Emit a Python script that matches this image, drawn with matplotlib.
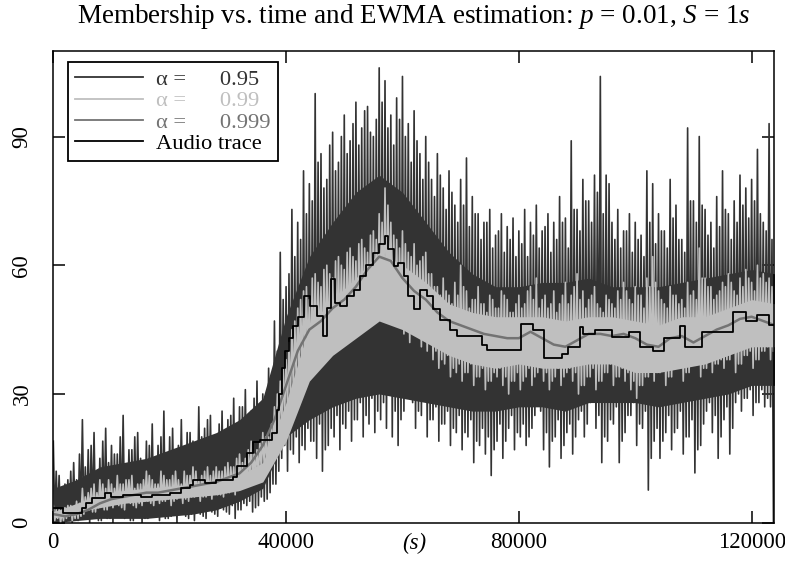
import numpy as np
import matplotlib
matplotlib.use("Agg")
import matplotlib.pyplot as plt
from matplotlib.lines import Line2D

plt.rcParams['font.family'] = ['Liberation Serif', 'DejaVu Serif']
plt.rcParams['mathtext.fontset'] = 'custom'
plt.rcParams['mathtext.rm'] = 'Liberation Serif'
plt.rcParams['mathtext.it'] = 'Liberation Serif:italic'

# spike samples every 1000 s: hi_a at t, lo_a at t+250, hi_b at t+500, lo_b at t+750
step_s = 1000

# alpha = 0.95 estimate, spike tops / bottoms
hi95 = [19, 11, 9, 12, 10, 24, 17, 21, 15, 22, 18, 16, 25, 17, 20, 15, 19, 23, 18, 26,
        20, 17, 24, 21, 19, 27, 22, 25, 20, 26, 24, 29, 27, 31, 26, 33, 30, 36, 47, 63,
        55, 73, 70, 82, 79, 100, 86, 80, 91, 84, 95, 89, 98, 92, 97, 90, 106, 103, 95, 99,
        104, 93, 96, 86, 90, 80, 86, 78, 82, 74, 80, 85, 76, 72, 70, 73, 67, 72, 69, 71,
        68, 73, 70, 74, 68, 72, 70, 76, 71, 89, 73, 80, 75, 81, 104, 81, 70, 73, 68, 72,
        70, 67, 82, 79, 72, 68, 80, 74, 66, 92, 75, 90, 73, 70, 76, 82, 72, 75, 81, 78,
        80, 87, 70, 93]
lo95 = [0.5, 0, 1, 0, 0.5, 1, 0, 1.5, 0.5, 1, 0, 2, 1, 0.5, 1.5, 0, 1, 2, 0.5, 1,
        1.5, 0, 2, 1, 0.5, 2, 1, 2.5, 1.5, 3, 2, 1, 3, 4, 2.5, 4, 5, 7, 9, 15,
        12, 16, 14, 17, 19, 15, 12, 18, 20, 17, 22, 19, 24, 20, 23, 21, 24, 22, 20, 18,
        26, 29, 22, 25, 20, 24, 19, 23, 18, 21, 17, 20, 14, 18, 16, 11, 19, 15, 22, 17,
        20, 18, 22, 31, 17, 13, 20, 15, 21, 16, 24, 20, 28, 22, 14, 19, 23, 14, 21, 25,
        18, 22, 7.6, 19, 15, 21, 17, 22, 16, 20, 11.6, 18, 26, 21, 15, 24, 16, 28, 26, 29,
        25, 28, 27, 27]
hi95b = [12, 8, 10, 14, 16, 13, 18, 12, 19, 14, 16, 20, 13, 17, 21, 14, 18, 15, 20, 16,
         22, 18, 15, 21, 17, 20, 24, 19, 23, 21, 25, 22, 27, 24, 29, 25, 28, 33, 40, 52,
         58, 62, 66, 72, 75, 84, 78, 88, 82, 90, 86, 93, 88, 96, 91, 94, 98, 92, 88, 94,
         90, 84, 89, 80, 84, 76, 81, 73, 77, 70, 74, 69, 72, 66, 70, 64, 68, 63, 66, 62,
         65, 62, 67, 64, 69, 63, 66, 70, 64, 73, 68, 75, 70, 77, 72, 79, 66, 64, 68, 63,
         66, 62, 70, 65, 68, 64, 71, 66, 63, 75, 70, 74, 67, 64, 69, 73, 66, 70, 74, 71,
         75, 72, 68, 66]
lo95b = [1, 2, 0.5, 1.5, 2, 1, 2.5, 0.5, 2, 1, 3, 1.5, 2, 0.5, 2.5, 1, 3, 1.5, 2, 1,
         2.5, 3, 1.5, 2, 3, 1.5, 3, 2, 3.5, 2.5, 4, 3, 4.5, 5, 3.5, 6, 5.5, 9, 12, 18,
         17, 20, 18, 22, 19, 23, 17, 22, 25, 23, 26, 24, 28, 25, 29, 26, 28, 30, 26, 24,
         31, 28, 26, 29, 24, 27, 23, 26, 22, 25, 21, 24, 19, 22, 20, 17, 23, 19, 25, 21,
         23, 20, 25, 26, 21, 19, 24, 18, 23, 20, 26, 23, 29, 25, 20, 24, 27, 19, 25, 28,
         23, 26, 15, 22, 19, 25, 21, 26, 20, 24, 17, 23, 28, 25, 20, 27, 22, 30, 29, 31,
         28, 31, 29, 0]

# alpha = 0.99 estimate, same sampling
hi99 = [4, 3, 3.5, 4, 5,
        8, 7, 9, 10, 8, 9, 11, 9, 10, 8, 9, 12, 10, 9, 11, 10, 12, 9, 11, 13, 10, 12, 11, 13, 12,
        14, 13, 16, 15, 19, 17, 21, 20,
        27, 33, 38, 45, 50, 54, 52,
        58, 55, 60, 57, 62, 59, 64, 61, 66, 63, 68,
        72, 78, 70,
        66, 68, 63, 65, 61, 63,
        58, 55, 57, 53, 56, 60, 54, 52, 55, 51, 53, 50, 54, 52, 49, 53, 51, 55, 57, 52,
        50, 54, 51, 56, 53, 58, 54, 52, 55, 50, 53, 51, 54, 56, 52, 55, 53, 57, 62, 54,
        51, 55, 53, 52, 56, 54, 64, 57, 55, 53, 56, 58, 54, 57, 59, 56, 60, 58, 57]
lo99 = [0.5, 0, 1, 0.5, 1,
        2, 3, 2.5, 4, 3, 3.5, 4, 3, 4.5, 3.5, 4, 5, 4, 4.5, 5, 4, 5.5, 4.5, 5, 6, 5, 6, 5.5, 6.5, 6,
        7, 6.5, 8, 8.5, 10, 11, 13, 15,
        18, 22, 27, 31, 34, 37, 36,
        39, 37, 41, 40, 43, 42, 45, 44, 47, 46, 49,
        50, 52, 48,
        46, 44, 42, 45, 41, 40,
        38, 36, 37, 34, 35, 33, 35, 32, 34, 31, 33, 34, 32, 30, 33, 31, 34, 32, 35, 33,
        31, 34, 32, 35, 33, 30, 32, 34, 31, 33, 35, 32, 34, 33, 31, 29, 32, 34, 33, 35,
        32, 34, 36, 33, 35, 37, 34, 36, 35, 37, 36, 38, 35, 37, 39, 36, 38, 40, 38]
hi99b = [3, 2.5, 4, 3, 4.5,
         6, 8, 7, 9, 10, 8, 9, 10, 11, 9, 10, 11, 9, 12, 10, 11, 10, 12, 11, 12, 11, 13, 12, 12, 13,
         13, 15, 14, 17, 16, 19, 20, 23,
         30, 36, 42, 47, 52, 55, 57,
         56, 59, 58, 61, 60, 63, 62, 65, 64, 67, 66,
         70, 74, 67,
         64, 65, 62, 60, 62, 58,
         55, 53, 54, 51, 53, 55, 50, 52, 51, 49, 52, 50, 53, 49, 51, 50, 54, 52, 50, 53,
         51, 49, 53, 51, 55, 52, 50, 53, 51, 49, 52, 50, 52, 54, 51, 53, 50, 55, 56, 52,
         50, 53, 51, 50, 53, 52, 57, 55, 52, 54, 55, 56, 53, 55, 57, 54, 57, 56, 55]
lo99b = [1, 0.5, 1.5, 1, 1.5,
         3, 2.5, 3.5, 3, 4, 4.5, 3.5, 5, 4, 4.5, 5, 4.5, 5.5, 5, 5.5, 5, 6, 5.5, 6, 6.5, 6, 6.5, 7, 6.5, 7,
         8, 7.5, 9, 9.5, 11, 12, 14, 16,
         20, 25, 29, 33, 36, 39, 38,
         41, 40, 43, 42, 45, 44, 47, 46, 49, 48, 51,
         52, 54, 50,
         48, 46, 44, 46, 43, 42,
         40, 38, 39, 36, 37, 35, 37, 34, 36, 33, 35, 36, 34, 33, 35, 33, 36, 34, 37, 35,
         33, 36, 34, 36, 35, 32, 34, 36, 33, 35, 37, 34, 36, 35, 33, 32, 34, 36, 35, 37,
         34, 36, 38, 35, 37, 38, 36, 38, 37, 38, 38, 40, 37, 39, 40, 38, 40, 41, 40]

# solid cores of the two noisy bands, every 4000 s
t_core = list(range(0, 124001, 4000))
core95_hi = [8, 10, 13, 14, 15, 17, 19, 21, 24, 29, 48, 62, 70, 77, 81, 77, 70, 63, 58, 55,
             55, 56, 56, 57, 55, 55, 55, 56, 57, 58, 59, 58]
core95_lo = [0, 0.5, 1, 1, 1, 1.5, 2, 3, 5, 8, 20, 24, 27, 29, 30, 29, 28, 27, 26, 26,
             27, 27, 26, 28, 28, 28, 27, 28, 29, 30, 32, 32]
core99_hi = [2.5, 4.5, 6.5, 7.5, 8, 8.5, 9, 9.5, 11, 14, 28, 46, 52, 57, 63, 60, 56, 51, 49, 48,
             48, 48, 47, 48, 48, 47, 46, 48, 48, 50, 52, 51]
core99_lo = [1, 2.5, 3.5, 4.5, 5, 5.5, 6, 6.5, 7.5, 9.5, 19, 33, 39, 43, 47, 45, 42, 39, 37, 36,
             37, 36, 36, 37, 37, 35, 35, 36, 37, 39, 41, 41]

# alpha = 0.999 estimate, every 2000 s
t999 = list(range(0, 124001, 2000))
v999 = [2, 1.5, 2, 3, 4.5, 5.5, 6, 6.5, 7, 7, 7.5, 8, 8.5, 9, 9.5, 10.5, 11.5, 14, 18, 24,
        32, 40, 45, 47, 50, 52, 55, 59, 62, 61, 57, 54, 52, 49, 47, 46, 45, 44, 43.5, 43,
        43, 44.5, 43, 41.5, 41, 42.5, 44, 44, 43.5, 44, 43, 41.5, 41, 43, 43.5, 42, 43.5, 45,
        46, 47.5, 48, 47, 46]

# audio trace (step function)
audio_t = [0, 1700, 4900, 5700, 6600, 8900, 10000, 12000, 15000, 17000,
           20000, 22000, 23500, 24000, 26000, 28000, 30900, 31500, 33200, 34400,
           35500, 37500, 38400, 38800, 39300, 39800, 40500, 41200, 42000, 43000,
           44100, 45300, 46400, 47000, 47800, 48400, 49300, 50400, 51600, 52700,
           53800, 55000, 56000, 57000, 57600, 58500, 59300, 60200, 61000, 61900,
           63000, 64200, 65300, 66500, 68200, 69300, 73600, 74500, 80300, 82500,
           83500, 84400, 87400, 88500, 90500, 91000, 93000, 96000, 99000, 100800,
           103000, 105000, 107700, 108600, 111500, 116800, 119000, 121000, 123000, 124000]
audio_v = [3.4, 2.2, 3.4, 4.5, 5.7, 6.9, 6.1, 6.5, 6.1, 6.5,
           7.0, 8.0, 8.8, 10.0, 9.3, 10.0, 10.7, 13.1, 16.2, 18.9,
           19.3, 20.9, 26.3, 30.0, 36.0, 40.0, 43.0, 45.8, 48.0, 52.8,
           50.4, 48.1, 43.4, 50.0, 56.7, 51.2, 50.4, 52.8, 54.3, 57.4,
           60.0, 62.9, 65.0, 66.8, 63.7, 59.8, 60.6, 57.4, 52.8, 49.7,
           54.3, 52.8, 49.7, 47.3, 45.0, 43.4, 41.5, 40.3, 46.2, 45.0,
           45.0, 38.3, 39.4, 41.0, 45.7, 44.0, 44.8, 43.2, 44.5, 41.0,
           40.0, 43.0, 45.8, 41.0, 44.4, 49.0, 47.0, 48.5, 46.0, 46.0]

labels = ["0.95", "0.99", "0.999"]
colors = ["#333333", "#bfbfbf", "#737373"]
xticks = [0, 40000, 80000, 120000]
yticks = [0, 30, 60, 90]


def zigzag(*cols):
    n = len(cols)
    t = np.arange(len(cols[0])) * step_s
    x = np.column_stack([t + k * step_s / n for k in range(n)]).ravel()
    y = np.column_stack(cols).ravel()
    return x, y


fig = plt.figure(figsize=(7.85, 5.61), dpi=100)
ax = fig.add_axes([0.0679, 0.0683, 0.9185, 0.8413])

ax.fill_between(t_core, core95_lo, core95_hi, color=colors[0], lw=0, zorder=1)
x, y = zigzag(hi95, lo95, hi95b, lo95b)
ax.plot(x, y, color=colors[0], lw=1.2, zorder=2)
ax.fill_between(t_core, core99_lo, core99_hi, color=colors[1], lw=0, zorder=3)
x, y = zigzag(hi99, lo99, hi99b, lo99b)
ax.plot(x, y, color=colors[1], lw=1.2, zorder=4)
ax.plot(t999, v999, color=colors[2], lw=1.8, zorder=5)
ax.step(audio_t, audio_v, where='post', color='black', lw=1.3, zorder=6)

ax.set_xlim(0, 123900)
ax.set_ylim(0, 110)
ax.set_xticks(xticks)
ax.set_yticks(yticks)
ax.set_xticklabels([str(v) for v in xticks])
ax.set_yticklabels([str(v) for v in yticks], rotation=90, va='center')
ax.tick_params(axis='both', direction='in', length=8.5, width=1.1,
               top=True, right=True, labelsize=16.5)
ax.tick_params(axis='x', pad=6.5)
ax.tick_params(axis='y', pad=15)
for s in ax.spines.values():
    s.set_linewidth(1.1)
    s.set_zorder(10)

ax.text(0.5, -0.056, "(s)", transform=ax.transAxes, ha='center', va='baseline',
        fontsize=16.5, fontstyle='italic')

fig.text(0.527, 1 - 23 / 561,
         "Membership vs. time and EWMA estimation: $p$ = 0.01, $S$ = 1$s$",
         ha='center', va='baseline', fontsize=19.5)

handles = [Line2D([], [], color=c, lw=1.3) for c in colors]
handles.append(Line2D([], [], color='black', lw=1.3))
names = ["α =      " + l for l in labels] + ["Audio trace"]
leg = ax.legend(handles, names, loc='upper left', bbox_to_anchor=(0.0208, 0.9754),
                borderaxespad=0, fancybox=False, framealpha=1, edgecolor='black',
                fontsize=16.2, handlelength=3.0, handletextpad=0.6, borderpad=0.32,
                labelspacing=0.02)
leg.set_zorder(20)
leg.get_frame().set_linewidth(1.3)
for txt, c in zip(leg.get_texts(), colors + ['black']):
    txt.set_color(c)

fig.savefig("out.png", dpi=100)
